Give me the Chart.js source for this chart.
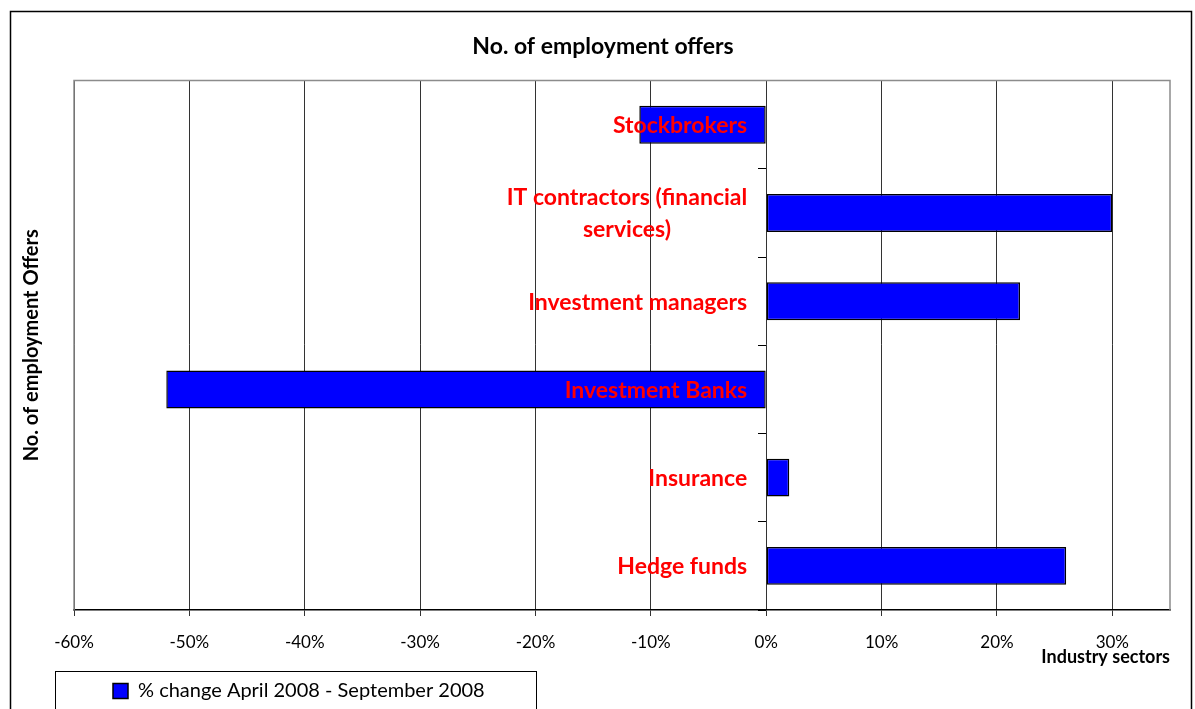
<!DOCTYPE html>
<html>
<head>
<meta charset="utf-8">
<script src="https://cdn.jsdelivr.net/npm/chart.js@4"></script>
<style>
html, body { margin: 0; padding: 0; background: #fff; overflow: hidden; }
canvas { display: block; }
</style>
</head>
<body>
<canvas id="offersChart" width="1195" height="711"></canvas>
<script>
const sectors = ['Stockbrokers', ['IT contractors (financial', 'services)'], 'Investment managers', 'Investment Banks', 'Insurance', 'Hedge funds'];
const pctChange = [-11, 30, 22, -52, 2, 26];
const seriesName = '% change April 2008 - September 2008';
const xMin = -60, xMax = 35, xStep = 10;

// frames, legend box and a few position tweaks Excel had
const framePlugin = {
    id: 'frames',
    afterLayout(chart) {
        const lg = chart.legend;
        if (lg) {
            const dx = 100 - lg.left;
            lg.left += dx;
            lg.right += dx;
        }
        const tb = chart.titleBlock;
        if (tb) {
            tb.left += 13;
            tb.right += 13;
        }
    },
    beforeDraw(chart) {
        const ctx = chart.ctx;
        ctx.save();
        ctx.fillStyle = '#fff';
        ctx.fillRect(0, 0, chart.width, chart.height);
        ctx.strokeStyle = '#000';
        ctx.lineWidth = 1.5;
        ctx.strokeRect(10.5, 11.5, 1181, 760);
        ctx.lineWidth = 1;
        ctx.strokeRect(55.5, 671.5, 481, 100);
        ctx.restore();
    },
    beforeDatasetsDraw(chart) {
        const a = chart.chartArea;
        const ctx = chart.ctx;
        ctx.save();
        ctx.strokeStyle = '#8c8c8c';
        ctx.lineWidth = 1.5;
        ctx.beginPath();
        ctx.moveTo(a.left, a.bottom);
        ctx.lineTo(a.left, a.top);
        ctx.lineTo(a.right, a.top);
        ctx.lineTo(a.right, a.bottom);
        ctx.stroke();
        ctx.restore();
    },
    // category names sit left of the zero line, on top of the bars
    afterDatasetsDraw(chart) {
        const { ctx, scales } = chart;
        const right = scales.x.getPixelForValue(0) - 19;
        ctx.save();
        ctx.font = 'bold 23px Lato';
        ctx.fillStyle = '#ff0000';
        ctx.textAlign = 'center';
        ctx.textBaseline = 'middle';
        sectors.forEach((label, i) => {
            const lines = Array.isArray(label) ? label : [label];
            const cy = scales.y.getPixelForValue(i) + 1;
            const w = Math.max(...lines.map(l => ctx.measureText(l).width));
            lines.forEach((line, k) => {
                ctx.fillText(line, right - w / 2, cy + (k - (lines.length - 1) / 2) * 32);
            });
        });
        ctx.restore();
    }
};

const ctx = document.getElementById('offersChart').getContext('2d');
const offersChart = new Chart(ctx, {
    type: 'bar',
    data: {
        labels: sectors,
        datasets: [{
            label: seriesName,
            data: pctChange,
            yAxisID: 'y',
            backgroundColor: '#0000ff',
            borderColor: '#000',
            borderWidth: 1.5,
            borderSkipped: false,
            barPercentage: 0.43,
            categoryPercentage: 1
        }]
    },
    options: {
        indexAxis: 'y',
        responsive: false,
        animation: false,
        devicePixelRatio: 1,
        layout: { padding: { top: 11, left: 10, right: 25, bottom: 0 } },
        scales: {
            x: {
                type: 'linear',
                min: xMin,
                max: xMax,
                ticks: {
                    stepSize: xStep,
                    includeBounds: false,
                    padding: 16,
                    color: '#000',
                    font: { family: 'Lato', size: 17 },
                    callback: v => v + '%'
                },
                grid: { color: '#333', tickLength: 6 },
                border: { color: '#000', width: 1.5 },
                title: {
                    display: true,
                    text: 'Industry sectors',
                    align: 'end',
                    color: '#000',
                    font: { family: 'Lato', size: 18, weight: 'bold' },
                    padding: { top: -22, bottom: 0 }
                }
            },
            y: {
                type: 'category',
                position: { x: 0 },
                ticks: { display: false },
                grid: { display: true, drawOnChartArea: false, tickLength: 8, color: '#000', offset: true },
                border: { display: false }
            },
            yt: {
                type: 'category',
                position: 'left',
                ticks: { display: false },
                grid: { display: false, drawTicks: false },
                border: { display: false },
                title: {
                    display: true,
                    text: 'No. of employment Offers',
                    color: '#000',
                    font: { family: 'Lato', size: 20, weight: 'bold' },
                    padding: { top: 10, bottom: 30 }
                }
            }
        },
        plugins: {
            title: {
                display: true,
                text: 'No. of employment offers',
                color: '#000',
                font: { family: 'Lato', size: 23, weight: 'bold' },
                padding: { top: 22, bottom: 20 }
            },
            legend: {
                position: 'bottom',
                align: 'start',
                labels: {
                    boxWidth: 15,
                    boxHeight: 15,
                    padding: 13,
                    color: '#000',
                    font: { family: 'Lato', size: 20 }
                }
            },
            tooltip: { enabled: false }
        }
    },
    plugins: [framePlugin]
});
</script>
</body>
</html>
